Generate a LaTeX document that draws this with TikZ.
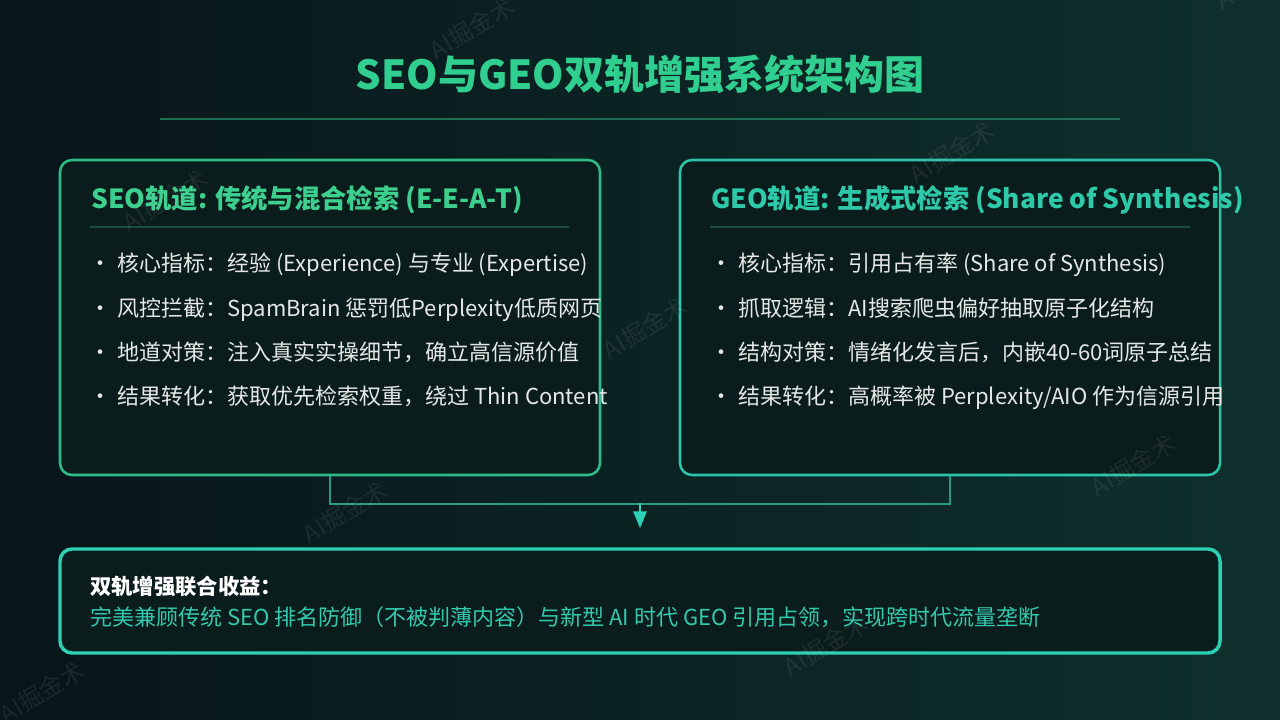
\documentclass[tikz,border=0pt]{standalone}
\usepackage{fontspec}
\setmainfont{Noto Sans CJK SC}
\usetikzlibrary{arrows.meta}
\definecolor{bgL}{HTML}{08151A}
\definecolor{bgR}{HTML}{0F302D}
\definecolor{titleC}{HTML}{30CF8F}
\definecolor{ruleC}{HTML}{1E6E55}
\definecolor{sepC}{HTML}{1F4A42}
\definecolor{seoC}{HTML}{2DBC88}
\definecolor{geoC}{HTML}{2CC4A9}
\definecolor{sumC}{HTML}{2DD0B4}
\definecolor{seoH}{HTML}{3CCF8E}
\definecolor{geoH}{HTML}{2EC9A9}
\definecolor{boxF}{HTML}{0B1C1C}
\definecolor{itemC}{HTML}{E4E8E6}
\definecolor{connC}{HTML}{2A9A86}
\definecolor{arrC}{HTML}{2FD0B8}
\definecolor{bodyC}{HTML}{33C9AD}
\begin{document}
\begin{tikzpicture}[x=0.75pt,y=-0.75pt,
  panel/.style={draw, line width=1.9pt, rounded corners=9pt, fill=boxF, inner sep=0pt},
  sumbox/.style={draw=sumC, line width=2.6pt, rounded corners=9pt, fill=boxF, inner sep=0pt},
  heading/.style={anchor=base west, inner sep=0pt, font=\fontsize{19.75}{24}\selectfont\bfseries},
  item/.style={anchor=base west, inner sep=0pt, text=itemC, font=\fontsize{16.5}{20}\selectfont},
  sep/.style={draw=sepC, line width=1.1pt},
  conn/.style={draw=connC, line width=1.5pt},
  arr/.style={draw=arrC, line width=1.5pt, -{Triangle[length=12.75pt,width=10pt]}},
  wm/.style={text=white, opacity=0.075, rotate=31, font=\fontsize{18}{20}\selectfont}
]
\useasboundingbox (0,0) rectangle (1280,720);
\shade[left color=bgL,right color=bgR] (0,0) rectangle (1280,720);

% title
\node[anchor=base, inner sep=0pt, text=titleC, font=\fontsize{30}{34}\selectfont\bfseries] (title) at (640,90) {SEO与GEO双轨增强系统架构图};
\coordinate (r1) at (160,119);
\coordinate (r2) at (1120,119);
\draw[draw=ruleC, line width=2.2pt] (r1) -- (r2);

% panels
\node[panel, draw=seoC, minimum width=405pt, minimum height=236.25pt] (seo) at (330,317.5) {};
\node[panel, draw=geoC, minimum width=405pt, minimum height=236.25pt] (geo) at (950,317.5) {};
\node[sumbox, minimum width=870pt, minimum height=78pt] (sum) at (640,601) {};

% SEO panel text
\node[heading, text=seoH] (seoh) at (91,209) {SEO轨道: 传统与混合检索 (E-E-A-T)};
\coordinate (s1) at (90,227);
\coordinate (s2) at (569,227);
\draw[sep] (s1) -- (s2);
\node[item] (seo1) at (89,272) {・\hspace{4.5pt}核心指标：经验 (Experience) 与专业 (Expertise)};
\node[item] (seo2) at (89,316) {・\hspace{4.5pt}风控拦截：SpamBrain 惩罚低Perplexity低质网页};
\node[item] (seo3) at (89,360) {・\hspace{4.5pt}地道对策：注入真实实操细节，确立高信源价值};
\node[item] (seo4) at (89,404) {・\hspace{4.5pt}结果转化：获取优先检索权重，绕过 Thin Content};

% GEO panel text
\node[heading, text=geoH] (geoh) at (711,209) {GEO轨道: 生成式检索 (Share of Synthesis)};
\coordinate (g1) at (710,227);
\coordinate (g2) at (1190,227);
\draw[sep] (g1) -- (g2);
\node[item] (geo1) at (710,272) {・\hspace{4.5pt}核心指标：引用占有率 (Share of Synthesis)};
\node[item] (geo2) at (710,316) {・\hspace{4.5pt}抓取逻辑：AI搜索爬虫偏好抽取原子化结构};
\node[item] (geo3) at (710,360) {・\hspace{4.5pt}结构对策：情绪化发言后，内嵌40-60词原子总结};
\node[item] (geo4) at (710,404) {・\hspace{4.5pt}结果转化：高概率被 Perplexity/AIO 作为信源引用};

% connectors
\coordinate (join) at (640,503);
\draw[conn] (seo.south) -- ++(0,28) -| (geo.south);
\draw[arr, shorten >=14.25pt] (join) -- (sum.north);

% summary text
\node[anchor=base west, inner sep=0pt, text=white, font=\fontsize{16}{19}\selectfont\bfseries] (sumt) at (90,594) {双轨增强联合收益：};
\node[anchor=base west, inner sep=0pt, text=bodyC, font=\fontsize{16.5}{20}\selectfont] (sumb) at (90,625) {完美兼顾传统 SEO 排名防御（不被判薄内容）与新型 AI 时代 GEO 引用占领，实现跨时代流量垄断};

% watermarks
\node[wm] (w1) at (165,200) {AI掘金术};
\node[wm] (w2) at (472,28) {AI掘金术};
\node[wm] (w3) at (345,512) {AI掘金术};
\node[wm] (w4) at (645,328) {AI掘金术};
\node[wm] (w5) at (952,152) {AI掘金术};
\node[wm] (w6) at (1258,-22) {AI掘金术};
\node[wm] (w7) at (42,692) {AI掘金术};
\node[wm] (w8) at (826,645) {AI掘金术};
\node[wm] (w9) at (1133,465) {AI掘金术};
\end{tikzpicture}
\end{document}
